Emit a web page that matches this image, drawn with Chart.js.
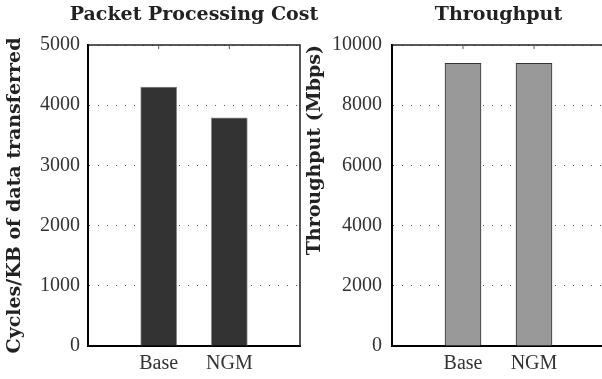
<!DOCTYPE html>
<html>
<head>
<meta charset="utf-8">
<script src="https://cdn.jsdelivr.net/npm/chart.js@4.4.0/dist/chart.umd.min.js"></script>
<style>
  html, body { margin: 0; padding: 0; background: #fff; overflow: hidden; }
  #wrap { position: relative; width: 602px; height: 379px; overflow: hidden; }
  #costChart { position: absolute; left: 0; top: 0; }
  #tputChart { position: absolute; left: 300px; top: 0; }
</style>
</head>
<body>
<div id="wrap">
  <canvas id="costChart" width="340" height="379"></canvas>
  <canvas id="tputChart" width="320" height="379"></canvas>
</div>
<script>
// data
const categories = ['Base', 'NGM'];
const costValues = [4300, 3790];        // cycles per KB transferred
const throughputValues = [9390, 9390];  // Mbps
const costMax = 5000, costStep = 1000;
const tputMax = 10000, tputStep = 2000;

const tickFont = { family: 'Liberation Serif', size: 20 };
const titleFont = { family: 'DejaVu Serif', size: 19, weight: 'bold' };

// empty slot either side so the bars sit at 1/3 and 2/3 of the axis
const paddedLabels = ['', ...categories, ''];
const padded = arr => [null, ...arr, null];

// box border on top/right + small inward ticks, and the title centred on the plot
const framePlugin = {
    id: 'frame',
    afterDatasetsDraw(chart, args, opts) {
        const { ctx, chartArea: a, scales } = chart;
        ctx.save();
        ctx.strokeStyle = '#222';
        ctx.lineWidth = 1.5;
        ctx.beginPath();
        ctx.moveTo(a.left, a.top);
        ctx.lineTo(a.right, a.top);
        ctx.lineTo(a.right, a.bottom);
        ctx.stroke();
        ctx.lineWidth = 1;
        ctx.strokeStyle = '#555';
        ctx.beginPath();
        for (let i = 1; i <= categories.length; i++) {
            const x = scales.x.getPixelForValue(i);
            ctx.moveTo(x, a.top);
            ctx.lineTo(x, a.top + 4);
        }
        ctx.stroke();

        // plot title
        ctx.fillStyle = '#222';
        ctx.font = `bold ${titleFont.size}px "${titleFont.family}"`;
        ctx.textAlign = 'center';
        ctx.textBaseline = 'alphabetic';
        ctx.fillText(opts.text, (a.left + a.right) / 2, a.top - 25);
        ctx.restore();
    }
};

const plainNumber = v => String(v);

function makeChart(id, values, fill, border, yMax, yStep, axisTitle, plotTitle, yWidth, padRight, titleAlign, tickPad) {
    const ctx = document.getElementById(id).getContext('2d');
    return new Chart(ctx, {
        type: 'bar',
        data: {
            labels: paddedLabels,
            datasets: [{
                label: plotTitle,
                data: padded(values),
                backgroundColor: fill,
                borderColor: border,
                borderWidth: 1,
                barThickness: 36
            }]
        },
        options: {
            responsive: false,
            animation: false,
            layout: { padding: { right: padRight, left: 0, top: 45, bottom: 0 } },
            plugins: {
                legend: { display: false },
                tooltip: { enabled: false },
                title: { display: false },
                frame: { text: plotTitle }
            },
            scales: {
                x: {
                    offset: false,
                    grid: { display: false, drawTicks: false },
                    border: { display: true, color: '#000', width: 2 },
                    ticks: { color: '#333', font: tickFont, padding: 6, autoSkip: false, maxRotation: 0 },
                    afterFit: s => { s.height = 33; }
                },
                y: {
                    min: 0,
                    max: yMax,
                    ticks: { stepSize: yStep, color: '#333', font: tickFont, padding: tickPad, callback: plainNumber },
                    grid: { color: '#555', lineWidth: 1, drawTicks: false, tickLength: 0 },
                    border: { display: true, color: '#000', width: 2, dash: [1, 8] },
                    title: {
                        display: true,
                        text: axisTitle,
                        color: '#222',
                        font: titleFont,
                        align: titleAlign,
                        padding: { top: 4, bottom: 0 }
                    },
                    afterFit: s => { s.width = yWidth; }
                }
            }
        },
        plugins: [framePlugin]
    });
}

makeChart('costChart', costValues, '#333333', '#8a8a8a',
    costMax, costStep, 'Cycles/KB of data transferred', 'Packet Processing Cost', 88, 40, 'center', 8);
makeChart('tputChart', throughputValues, '#999999', '#333333',
    tputMax, tputStep, 'Throughput (Mbps)', 'Throughput', 92, 15, 'end', 10);
</script>
</body>
</html>
